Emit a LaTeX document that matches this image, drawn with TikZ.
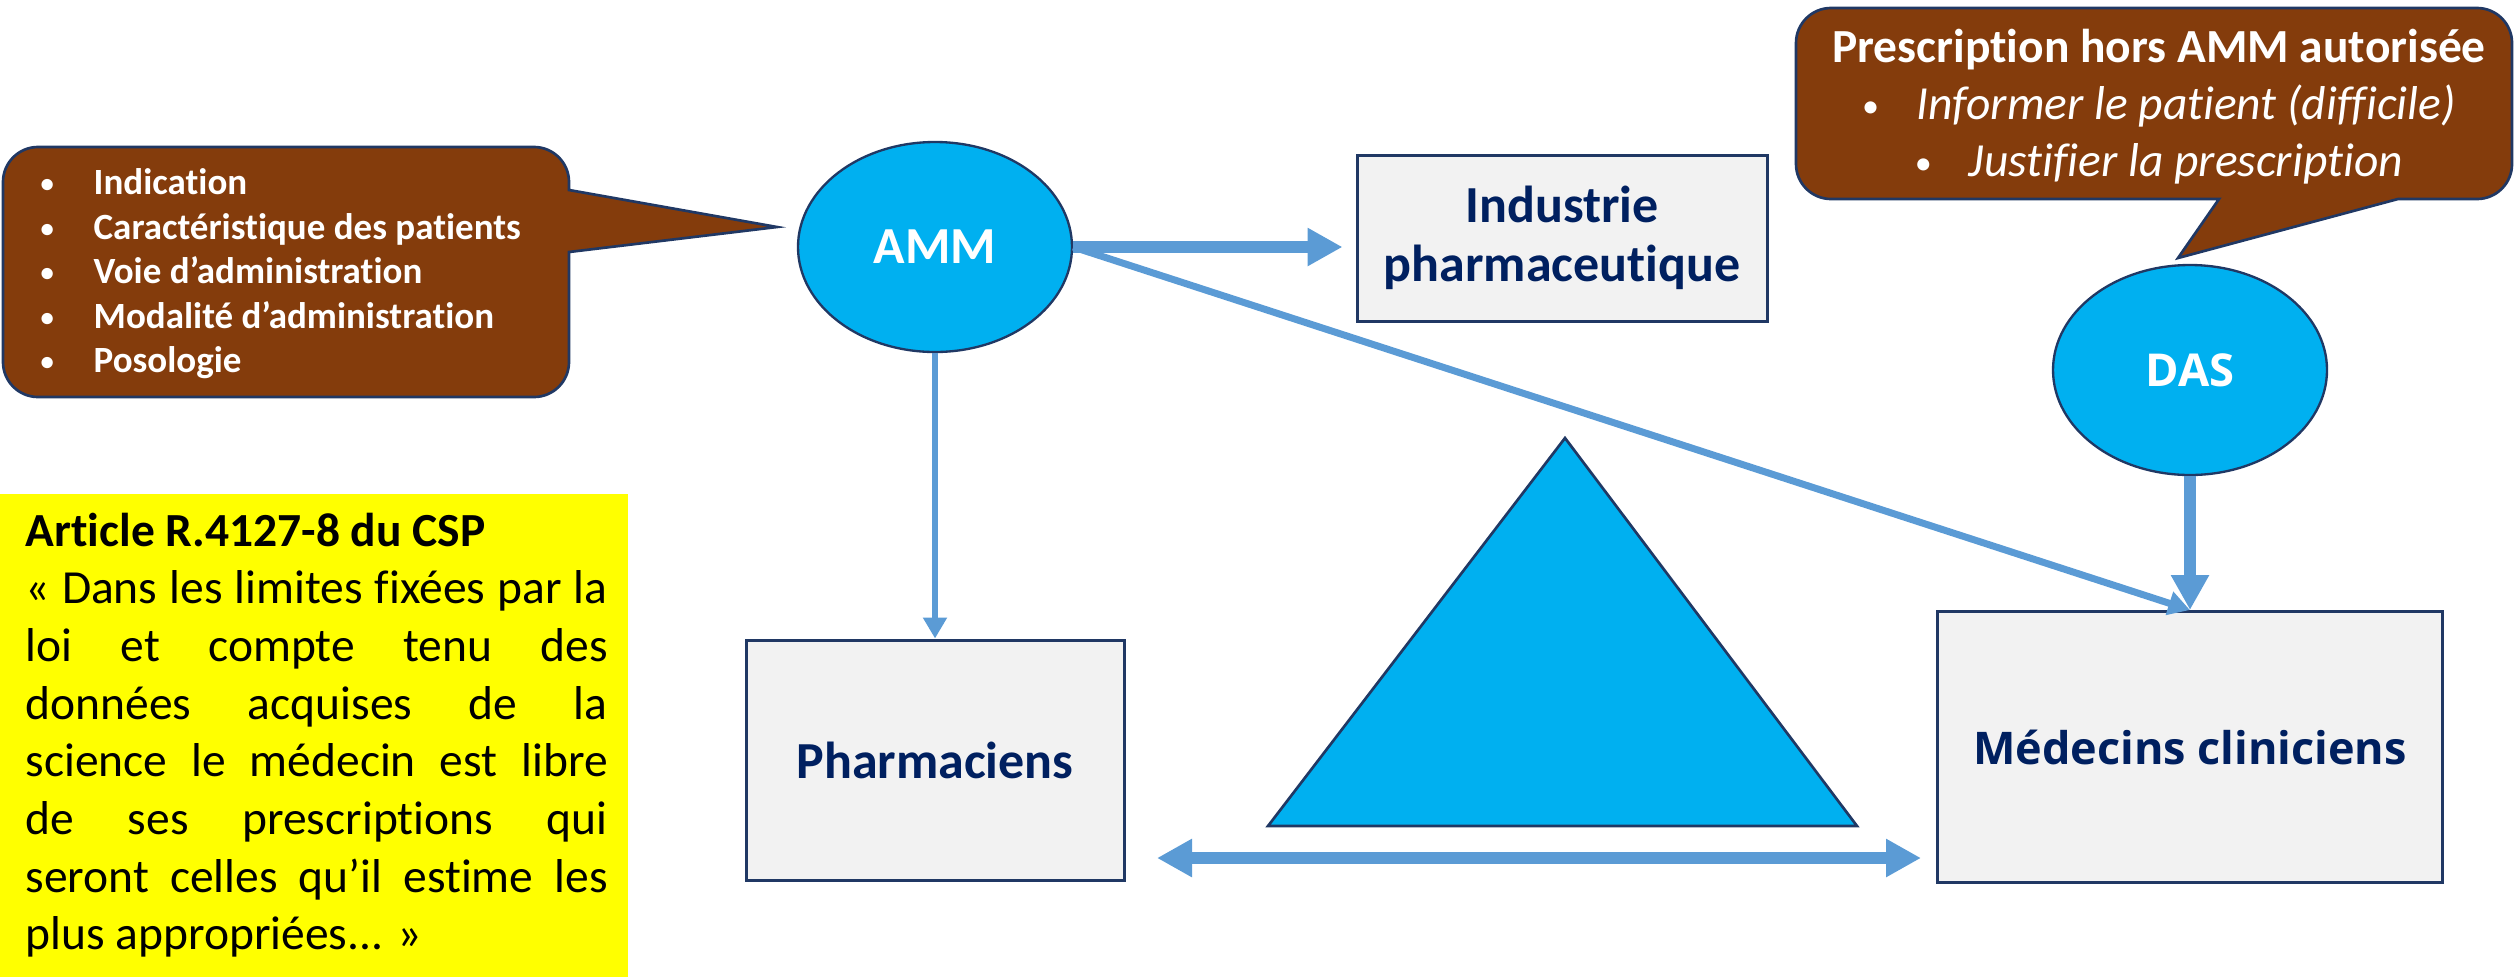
\documentclass[tikz,border=0pt]{standalone}
\usepackage{fontspec}
\setmainfont{Carlito}[Ligatures=NoCommon]
\newfontfamily\widesans{Open Sans}
\usetikzlibrary{shapes.geometric,arrows.meta}
\definecolor{brownfill}{HTML}{843C0C}
\definecolor{navyline}{HTML}{203864}
\definecolor{navytext}{HTML}{002060}
\definecolor{skyfill}{HTML}{00B0F0}
\definecolor{arrowblue}{HTML}{5B9BD5}
\definecolor{boxfill}{HTML}{F2F2F2}
\definecolor{notefill}{HTML}{FFFF00}
% one justified line of the quotation
\newcommand\jline[1]{\makebox[174.6pt][s]{#1}}
% small list bullet followed by a fixed gap
\newcommand\itemdot[1]{\makebox[#1][l]{\raisebox{0.12ex}{\scalebox{0.72}{•}}}}

\begin{document}
\begin{tikzpicture}[x=0.3pt,y=-0.3pt,
  bubble/.style={ellipse,fill=skyfill,draw=navyline,line width=0.7pt,
    minimum width=82.2pt,minimum height=63pt,inner sep=0pt,text=white},
  actor/.style={rectangle,fill=boxfill,draw=navyline,line width=0.9pt,
    inner sep=0pt,text=navytext,align=center,
    font=\fontsize{15.6}{17.7}\selectfont\bfseries},
  callout/.style={fill=brownfill,draw=navyline,line width=0.8pt},
  bigarrow/.style={draw=arrowblue,line width=3.6pt,-{Triangle[width=10.8pt,length=10.5pt]}},
  thinarrow/.style={draw=arrowblue,line width=2.1pt,-{Triangle[width=7pt,length=6.5pt]}},
  slimarrow/.style={draw=arrowblue,line width=1.8pt,-{Triangle[width=6.9pt,length=6.3pt]}},
]
\useasboundingbox (0,0) rectangle (2514,977);

% speech bubbles
\path[callout] (569,252) [rounded corners=10.5pt] -- (569,397) -- (3,397) -- (3,147)
  -- (569,147) [sharp corners] -- (569,190) -- (777,227) -- cycle;
\path[callout] (2219,199) [rounded corners=10.5pt] -- (1796,199) -- (1796,8) -- (2512,8)
  -- (2512,199) [sharp corners] -- (2398,199) -- (2178,258) -- cycle;

\node[font=\fontsize{11.1}{13.35}\selectfont\bfseries,text=white,align=left,
  anchor=west,inner sep=0pt] (amm-list) at (40,274)
  {\itemdot{15.9pt}Indication\\
   \itemdot{15.9pt}Caractéristique des patients\\
   \itemdot{15.9pt}Voie d’administration\\
   \itemdot{15.9pt}Modalité d’administration\\
   \itemdot{15.9pt}Posologie};

\node[font=\fontsize{14.25}{17.1}\selectfont,text=white,align=center,inner sep=0pt]
  (hors-amm) at (2159,107)
  {\textbf{Prescription hors AMM autorisée}\\
   \itemdot{16.2pt}\textit{Informer le patient (difficile)}\\
   \itemdot{16.2pt}\textit{Justifier la prescription}};

% quotation of the code
\path[fill=notefill] (0,494) rectangle (628,977);
\node[font=\fontsize{14.25}{17.3}\selectfont,align=left,inner sep=0pt,anchor=west]
  (csp) at (25,735)
  {\textbf{Article R.4127-8 du CSP}\\
   \jline{« Dans les limites fixées par la}\\
   \jline{loi et compte tenu des}\\
   \jline{données acquises de la}\\
   \jline{science le médecin est libre}\\
   \jline{de ses prescriptions qui}\\
   \jline{seront celles qu’il estime les}\\
   plus appropriées... »};

% central triangle
\path[fill=skyfill,draw=navyline,line width=0.8pt] (1565,438) -- (1857,826) -- (1268,826) -- cycle;

% actors
\node[bubble,font=\fontsize{15.6}{18}\selectfont\bfseries] (amm) at (935,247) {AMM};
\node[bubble,font=\widesans\fontsize{13.6}{16}\selectfont\bfseries] (das) at (2190,370) {DAS};
\node[actor,minimum width=123pt,minimum height=49.8pt] (ind) at (1562,238)
  {Industrie\\pharmaceutique};
\node[actor,minimum width=113.4pt,minimum height=72pt] (pharm) at (935,760) {Pharmaciens};
\node[actor,minimum width=151.5pt,minimum height=81.3pt,
  font=\widesans\fontsize{13.5}{16}\selectfont\bfseries] (med) at (2190,747)
  {Médecins cliniciens};

% links
\coordinate (dl) at (1157,858);
\coordinate (dr) at (1921,858);
\draw[bigarrow,shorten >=3.9pt] (amm.east) -- (amm.east -| ind.west);
\draw[slimarrow] (amm.south) -- (pharm.north);
\draw[thinarrow] (amm.east) -- (med.north);
\draw[bigarrow] (das.south) -- (med.north);
\draw[draw=arrowblue,line width=3.6pt,
  {Triangle[width=10.8pt,length=10.5pt]}-{Triangle[width=10.8pt,length=10.5pt]}] (dl) -- (dr);
\end{tikzpicture}
\end{document}
